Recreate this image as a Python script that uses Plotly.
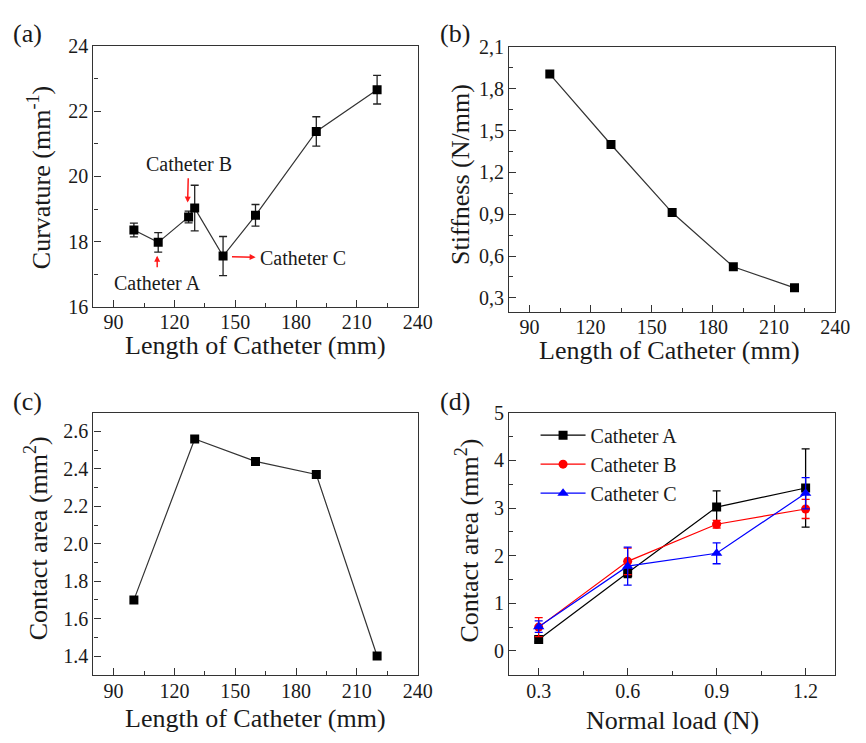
import plotly.graph_objects as go

# ---------------- data ----------------
# (a) curvature vs length
len_a = [100, 112, 127, 130, 144, 160, 190, 220]
curv_a = [18.36, 17.98, 18.76, 19.03, 17.56, 18.81, 21.38, 22.66]
curv_err = [0.21, 0.30, 0.18, 0.70, 0.60, 0.33, 0.45, 0.44]

# (b) stiffness vs length
len_b = [100, 130, 160, 190, 220]
stiff_b = [1.905, 1.40, 0.912, 0.523, 0.372]

# (c) contact area vs length
len_c = [100, 130, 160, 190, 220]
area_c = [1.70, 2.56, 2.44, 2.37, 1.40]

# (d) contact area vs normal load
load_d = [0.3, 0.6, 0.9, 1.2]
area_A = [0.24, 1.64, 3.02, 3.42]
err_A = [0.05, 0.10, 0.34, 0.82]
area_B = [0.50, 1.88, 2.66, 2.98]
err_B = [0.20, 0.28, 0.08, 0.20]
area_C = [0.51, 1.78, 2.05, 3.31]
err_C = [0.12, 0.40, 0.22, 0.33]

stiff_ticks = [0.3, 0.6, 0.9, 1.2, 1.5, 1.8, 2.1]
stiff_ticktext = ["0,3", "0,6", "0,9", "1,2", "1,5", "1,8", "2,1"]

x_title = "Length of Catheter (mm)"
y_titles = ["Curvature (mm<sup>-1</sup>)", "Stiffness (N/mm)",
            "Contact area (mm<sup>2</sup>)", "Contact area (mm<sup>2</sup>)"]
x_titles = [x_title, x_title, x_title, "Normal load (N)"]

# ---------------- style ----------------
FONT = "Liberation Serif, Times New Roman, DejaVu Serif, serif"
TXT = "#1a1a1a"
AX = "#333333"
W, H = 866, 743

fig = go.Figure()

line_style = dict(color="#333333", width=1.2)
sq = dict(symbol="square", size=9, color="black")

fig.add_trace(go.Scatter(
    x=len_a, y=curv_a, mode="lines+markers", line=line_style, marker=sq,
    error_y=dict(type="data", array=curv_err, color="#222", thickness=1.3, width=4),
    xaxis="x", yaxis="y", showlegend=False))

fig.add_trace(go.Scatter(
    x=len_b, y=stiff_b, mode="lines+markers", line=line_style, marker=sq,
    xaxis="x2", yaxis="y2", showlegend=False))

fig.add_trace(go.Scatter(
    x=len_c, y=area_c, mode="lines+markers", line=line_style, marker=sq,
    xaxis="x3", yaxis="y3", showlegend=False))

for name, ys, es, col, sym, sz in [
    ("Catheter A", area_A, err_A, "black", "square", 9),
    ("Catheter B", area_B, err_B, "red", "circle", 9),
    ("Catheter C", area_C, err_C, "blue", "triangle-up", 10),
]:
    fig.add_trace(go.Scatter(
        x=load_d, y=ys, mode="lines+markers", name=name,
        line=dict(color=col, width=1.2), marker=dict(symbol=sym, size=sz, color=col),
        error_y=dict(type="data", array=es, color=col, thickness=1.3, width=4),
        xaxis="x4", yaxis="y4"))

def px_x(a, b):
    return [a / W, b / W]

def px_y(top, bottom):
    return [1 - bottom / H, 1 - top / H]

def axis(domain, rng, dtick, minor_dtick, anchor, tick0=None, **kw):
    d = dict(
        domain=domain, range=rng, dtick=dtick, anchor=anchor,
        showline=True, mirror=True, linecolor=AX, linewidth=1.3,
        ticks="inside", ticklen=7, tickwidth=1.2, tickcolor=AX,
        minor=dict(dtick=minor_dtick, ticks="inside", ticklen=4, tickwidth=1.2, tickcolor=AX, showgrid=False),
        showgrid=False, zeroline=False,
        tickfont=dict(family=FONT, size=20, color=TXT),
    )
    if tick0 is not None:
        d["tick0"] = tick0
    d.update(kw)
    return d

xa_dom = px_x(95, 425)
xb_dom = px_x(518, 850)
ytop_dom = px_y(36, 305)
ytopb_dom = px_y(37, 310)
ybot_dom = px_y(414, 684)

fig.update_layout(
    width=W, height=H, margin=dict(l=0, r=0, t=0, b=0),
    paper_bgcolor="white", plot_bgcolor="white",
    font=dict(family=FONT, color=TXT),
    xaxis=axis(xa_dom, [80, 240], 30, 15, "y", tick0=0, ticklabelstandoff=-3),
    yaxis=axis(ytop_dom, [16, 24], 2, 1, "x"),
    xaxis2=axis(xb_dom, [80, 240], 30, 15, "y2", tick0=0, ticklabelstandoff=-3),
    yaxis2=axis(ytopb_dom, [0.2, 2.1], None, 0.15, "x2",
                tickmode="array", tickvals=stiff_ticks, ticktext=stiff_ticktext),
    xaxis3=axis(xa_dom, [80, 240], 30, 15, "y3", tick0=0, ticklabelstandoff=-2),
    yaxis3=axis(ybot_dom, [1.3, 2.7], 0.2, 0.1, "x3", tick0=0, tickformat=".1f"),
    xaxis4=axis(xb_dom, [0.2, 1.3], 0.3, 0.15, "y4", tick0=0, ticklabelstandoff=-2),
    yaxis4=axis(ybot_dom, [-0.5, 5], 1, 0.5, "x4", tick0=0),
    legend=dict(x=545 / W, y=1 - 417 / H, xanchor="left", yanchor="top",
                bgcolor="rgba(0,0,0,0)", font=dict(family=FONT, size=20, color=TXT),
                itemwidth=45, tracegroupgap=0),
)
fig.update_layout(yaxis2_minor=dict(tick0=0.15, dtick=0.15))

ann = []
tfont = dict(family=FONT, size=26, color=TXT)
centre = dict(xref="paper", yref="paper", xanchor="center", yanchor="middle", showarrow=False)
for lbl, x, y in [("(a)", 28, 23), ("(b)", 463, 23), ("(c)", 28, 402), ("(d)", 463, 402)]:
    ann.append(dict(text=lbl, x=x / W, y=1 - y / H, font=tfont, **centre))

# axis titles (pixel centres)
for txt, (cx, cy) in zip(x_titles, [(260, 345), (681, 350), (260, 729), (684, 731)]):
    ann.append(dict(text=txt, x=cx / W, y=1 - cy / H, font=tfont, **centre))
for txt, (cx, cy) in zip(y_titles, [(41, 172), (468, 168), (38, 543), (476, 546)]):
    ann.append(dict(text=txt, x=cx / W, y=1 - cy / H, textangle=-90, font=tfont, **centre))

red = "#ff1a1a"
afont = dict(family=FONT, size=20, color=TXT)
ann += [
    # Catheter B: label above, arrow down to the point
    dict(text="Catheter B", x=126.5, y=19.2, ax=127, ay=20.39, xref="x", yref="y",
         axref="x", ayref="y", showarrow=True, arrowhead=2, arrowsize=0.8,
         arrowwidth=1.5, arrowcolor=red, startstandoff=2, font=afont),
    # Catheter A: label below, arrow up to the point
    dict(text="Catheter A", x=111.5, y=17.57, ax=111.5, ay=16.74, xref="x", yref="y",
         axref="x", ayref="y", showarrow=True, arrowhead=2, arrowsize=0.8,
         arrowwidth=1.5, arrowcolor=red, startstandoff=3, font=afont),
    # Catheter C: label right, arrow pointing right toward label
    dict(text="Catheter C", x=148.4, y=17.54, ax=183.5, ay=17.5, xref="x", yref="y",
         axref="x", ayref="y", showarrow=True, arrowhead=2, startarrowhead=2,
         arrowside="start", arrowsize=0.8, startarrowsize=0.8,
         arrowwidth=1.5, arrowcolor=red, startstandoff=3, font=afont),
]
fig.update_layout(annotations=ann)

fig.write_html("out.html")
